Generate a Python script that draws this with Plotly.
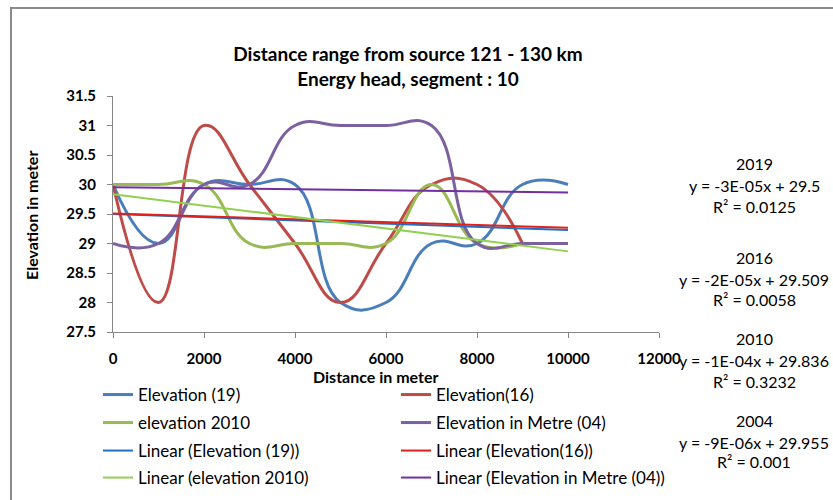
import numpy as np
import plotly.graph_objects as go

# ---------------- data ----------------
distance = [0, 1000, 2000, 3000, 4000, 5000, 6000, 7000, 8000, 9000, 10000]
elev_19 = [30, 29, 30, 30, 30, 28, 28, 29, 29, 30, 30]
elev_16 = [30, 28, 31, 30, 29, 28, 29, 30, 30, 29]
elev_2010 = [30, 30, 30, 29, 29, 29, 29, 30, 29, 29]
elev_04 = [29, 29, 30, 30, 31, 31, 31, 31, 29, 29, 29]

series_names = ["Elevation (19)", "Elevation(16)", "elevation 2010", "Elevation in Metre (04)"]
trend_names = ["Linear (Elevation (19))", "Linear (Elevation(16))",
               "Linear (elevation 2010)", "Linear (Elevation in Metre (04))"]
series_colors = ["#4A7EBB", "#BE4B48", "#98B954", "#7D60A0"]
trend_colors = ["#1F6FC4", "#E0201B", "#92D050", "#7030A0"]

trend_years = ["2019", "2016", "2010", "2004"]
trend_eqs = ["y = -3E-05x + 29.5", "y = -2E-05x + 29.509",
             "y = -1E-04x + 29.836", "y = -9E-06x + 29.955"]
trend_r2 = ["R² = 0.0125", "R² = 0.0058", "R² = 0.3232", "R² = 0.001"]

x_ticks = [0, 2000, 4000, 6000, 8000, 10000, 12000]
y_ticks = [27.5, 28, 28.5, 29, 29.5, 30, 30.5, 31, 31.5]
trend_span = [0, 10000]

# ---------------- layout helpers ----------------
W, H = 833, 500
PL, PR, PT, PB = 113, 659, 96, 332


def px(x):
    return (x - PL) / (PR - PL)


def py(y):
    return (PB - y) / (PB - PT)


FONT = "Lato"
all_series = [elev_19, elev_16, elev_2010, elev_04]
legend_ids = ["legend", "legend2", "legend3", "legend4"]
legend_of_series = ["legend", "legend", "legend2", "legend2"]
legend_of_trend = ["legend3", "legend3", "legend4", "legend4"]

fig = go.Figure()

for i, ys in enumerate(all_series):
    xs = distance[:len(ys)]
    fig.add_trace(go.Scatter(
        x=xs, y=ys, mode="lines", name=series_names[i],
        line=dict(color=series_colors[i], width=3, shape="spline", smoothing=1.3),
        legend=legend_of_series[i]))

for i, ys in enumerate(all_series):
    xs = distance[:len(ys)]
    slope, intercept = np.polyfit(xs, ys, 1)
    tx = trend_span
    ty = [slope * t + intercept for t in tx]
    fig.add_trace(go.Scatter(
        x=tx, y=ty, mode="lines", name=trend_names[i],
        line=dict(color=trend_colors[i], width=2),
        legend=legend_of_trend[i]))

row_centers = [394, 422, 450, 477]
legend_layouts = {}
for k, lid in enumerate(legend_ids):
    legend_layouts[lid] = dict(
        orientation="h", x=px(98), xanchor="left",
        y=py(row_centers[k] - 17), yanchor="top",
        entrywidth=253, entrywidthmode="pixels",
        font=dict(family=FONT, size=17, color="#000000"),
        bgcolor="rgba(0,0,0,0)", traceorder="normal")

annotations = []
block_y = [(163, 185, 206), (257, 279, 299), (338, 360, 381), (420, 442, 462)]
for i in range(4):
    for txt, yy in zip([trend_years[i], trend_eqs[i], trend_r2[i]], block_y[i]):
        annotations.append(dict(
            text=txt, x=px(754), y=py(yy), xref="paper", yref="paper",
            xanchor="center", yanchor="middle", showarrow=False,
            font=dict(family=FONT, size=16, color="#000000")))

annotations.append(dict(
    text="Distance in meter", x=px(375), y=py(376), xref="paper", yref="paper",
    xanchor="center", yanchor="middle", showarrow=False,
    font=dict(family=FONT, size=16, color="#000000", weight="bold")))
annotations.append(dict(
    text="Elevation in meter", x=px(31), y=py(216), xref="paper", yref="paper",
    xanchor="center", yanchor="middle", showarrow=False, textangle=-90,
    font=dict(family=FONT, size=16, color="#000000", weight="bold")))

shapes = [dict(type="rect", xref="paper", yref="paper",
               x0=px(11), x1=px(900), y0=py(560), y1=py(8),
               line=dict(color="#8A8A8A", width=2), fillcolor="rgba(0,0,0,0)",
               layer="below")]

fig.update_layout(
    width=W, height=H,
    margin=dict(l=PL, r=W - PR, t=PT, b=H - PB, autoexpand=False),
    paper_bgcolor="white", plot_bgcolor="white",
    title=dict(text="Distance range from source 121 - 130 km<br>Energy head, segment : 10",
               x=px(408), xref="paper", xanchor="center",
               y=1 - 61 / H, yref="container", yanchor="middle",
               font=dict(family=FONT, size=19, color="#000000", weight="bold")),
    xaxis=dict(range=[0, 12000], tickvals=x_ticks, ticktext=[str(v) for v in x_ticks],
               showgrid=False, zeroline=False, showline=True, linecolor="#868686",
               linewidth=1, ticks="outside", ticklen=5, tickcolor="#868686",
               ticklabelstandoff=8,
               tickfont=dict(family=FONT, size=15, color="#000000", weight="bold")),
    yaxis=dict(range=[27.5, 31.5], tickvals=y_ticks, ticktext=[f"{v:g}" for v in y_ticks],
               showgrid=False, zeroline=False, showline=True, linecolor="#868686",
               linewidth=1, ticks="outside", ticklen=5, tickcolor="#868686",
               ticklabelstandoff=8,
               tickfont=dict(family=FONT, size=15, color="#000000", weight="bold")),
    annotations=annotations, shapes=shapes,
    showlegend=True,
    **legend_layouts)

fig.write_html("out.html")
